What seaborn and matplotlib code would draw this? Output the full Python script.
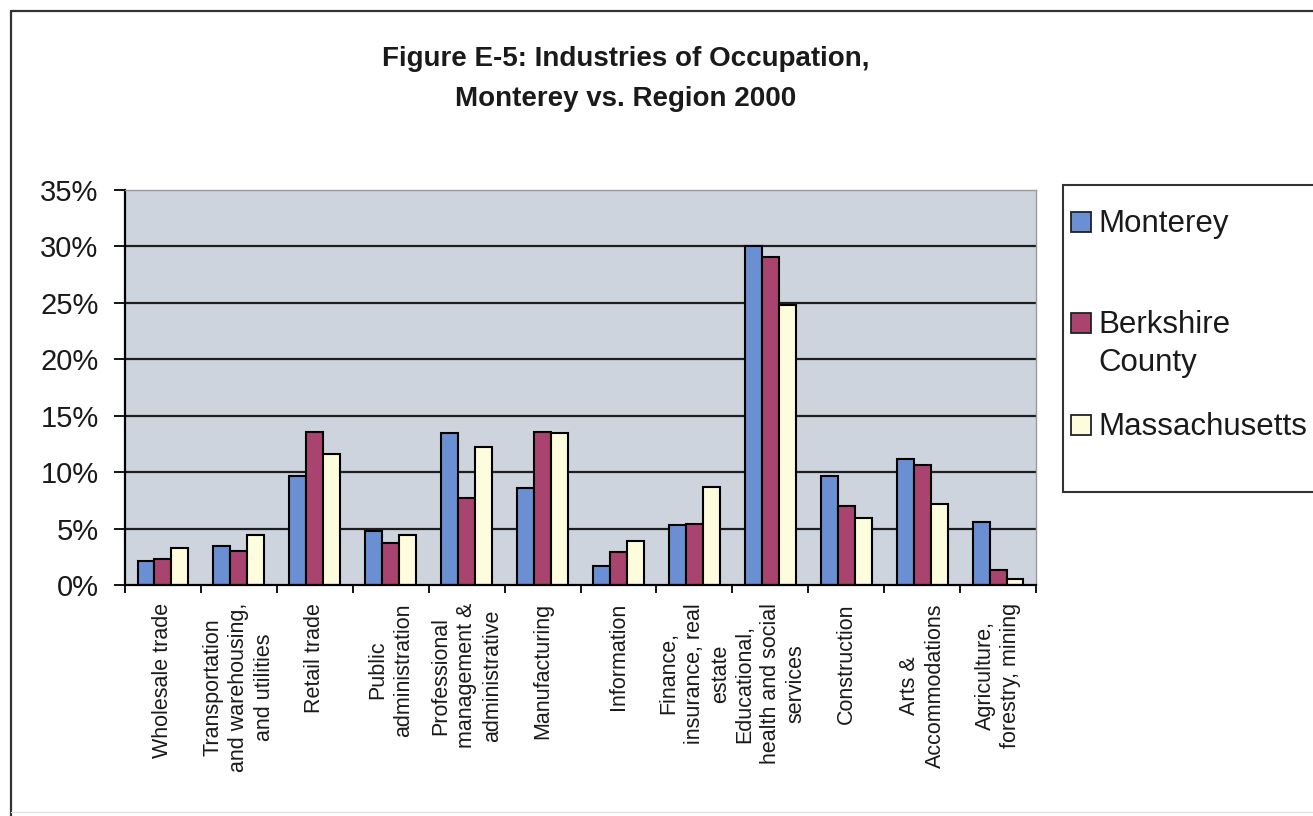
import numpy as np
import pandas as pd
import matplotlib
matplotlib.use("Agg")
import matplotlib.pyplot as plt
from matplotlib.patches import Rectangle
from matplotlib.lines import Line2D
from matplotlib.ticker import PercentFormatter
import seaborn as sns

# Share of employed residents by industry (percent), 2000
industries = [
    "Wholesale trade",
    "Transportation\nand warehousing,\nand utilities",
    "Retail trade",
    "Public\nadministration",
    "Professional\nmanagement &\nadministrative",
    "Manufacturing",
    "Information",
    "Finance,\ninsurance, real\nestate",
    "Educational,\nhealth and social\nservices",
    "Construction",
    "Arts &\nAccommodations",
    "Agriculture,\nforestry, mining",
]
series = ["Monterey", "Berkshire County", "Massachusetts"]
monterey = [2.1, 3.5, 9.7, 4.8, 13.5, 8.6, 1.7, 5.3, 30.0, 9.7, 11.2, 5.6]
berkshire = [2.3, 3.0, 13.6, 3.7, 7.7, 13.6, 2.9, 5.4, 29.1, 7.0, 10.6, 1.3]
massachusetts = [3.3, 4.4, 11.6, 4.4, 12.2, 13.5, 3.9, 8.7, 24.8, 5.9, 7.2, 0.5]
legend_labels = ["Monterey", "Berkshire\nCounty", "Massachusetts"]
colors = ["#6b8fd3", "#a8446f", "#fdfcdc"]

df = pd.DataFrame({
    "industry": industries * 3,
    "series": [s for s in series for _ in industries],
    "value": monterey + berkshire + massachusetts,
})

sns.set_style("white")
plt.rcParams["font.family"] = ["Liberation Sans", "DejaVu Sans"]

W, H = 1313, 816
fig = plt.figure(figsize=(W / 100, H / 100), dpi=100)
fig.patch.set_facecolor("white")

def fx(px):
    return px / W

def fy(py):
    return 1 - py / H

ax = fig.add_axes([fx(125), fy(585), fx(1036 - 125), (585 - 190) / H])
ax.set_facecolor("#cdd4de")

sns.barplot(
    data=df, x="industry", y="value", hue="series", order=industries,
    hue_order=series, palette=colors, saturation=1, width=0.67, gap=0,
    edgecolor="black", linewidth=1.5, legend=False, ax=ax,
)

ax.set_xlim(-0.5, len(industries) - 0.5)
ax.set_ylim(0, 35)
ax.set_xlabel("")
ax.set_ylabel("")

# y axis: percent ticks with dark horizontal gridlines
ax.set_yticks(range(0, 36, 5))
ax.yaxis.set_major_formatter(PercentFormatter(decimals=0))
ax.tick_params(axis="y", which="major", direction="out", length=8, width=1.3,
               color="black", pad=11, labelsize=21, labelcolor="#1a1a1a", left=True)
ax.set_axisbelow(True)
ax.yaxis.grid(True, color="#1e1e1e", linewidth=1.6)
ax.xaxis.grid(False)
grid = ax.get_ygridlines()
grid[0].set_visible(False)
grid[-1].set_visible(False)

# x axis: category labels at centers, tick marks at category boundaries
ax.set_xticks(range(len(industries)))
ax.set_xticklabels(industries, rotation=90, ha="center", va="top",
                   multialignment="center", fontsize=15.5, linespacing=1.3,
                   color="#1a1a1a")
ax.set_xticks(np.arange(-0.5, len(industries), 1), minor=True)
ax.tick_params(axis="x", which="major", length=0, pad=13, bottom=True)
ax.tick_params(axis="x", which="minor", direction="out", length=6, width=1.3,
               color="black", bottom=True)

for side in ("left", "bottom"):
    ax.spines[side].set_color("black")
    ax.spines[side].set_linewidth(1.6)
for side in ("top", "right"):
    ax.spines[side].set_visible(True)
    ax.spines[side].set_color("#9a9a9a")
    ax.spines[side].set_linewidth(1.0)

# title
fig.text(fx(626), fy(79), "Figure E-5: Industries of Occupation,\nMonterey vs. Region 2000",
         ha="center", va="center", fontsize=20, fontweight="bold",
         linespacing=1.7, color="#1a1a1a")

# outer chart frame
fig.add_artist(Line2D([fx(11), fx(W + 5)], [fy(11), fy(11)], color="#333333",
                      linewidth=1.6, transform=fig.transFigure))
fig.add_artist(Line2D([fx(11), fx(11)], [fy(11), fy(H + 5)], color="#333333",
                      linewidth=1.6, transform=fig.transFigure))
fig.add_artist(Line2D([fx(11), fx(W + 5)], [fy(812), fy(812)], color="#e2e2e2",
                      linewidth=1.0, transform=fig.transFigure))

# legend box
fig.add_artist(Rectangle((fx(1063), fy(492)), fx(1330 - 1063), (492 - 185) / H,
                         transform=fig.transFigure, facecolor="white",
                         edgecolor="#333333", linewidth=1.5))
entry_y = [222, 323, 425]
for color, label, yc in zip(colors, legend_labels, entry_y):
    fig.add_artist(Rectangle((fx(1071), fy(yc + 10)), fx(20), 20 / H,
                             transform=fig.transFigure, facecolor=color,
                             edgecolor="#222222", linewidth=1.3))
    fig.text(fx(1098), fy(yc - 13), label, ha="left", va="top", fontsize=22.5,
             linespacing=1.35, color="#1a1a1a")

fig.savefig("out.png", dpi=100)
